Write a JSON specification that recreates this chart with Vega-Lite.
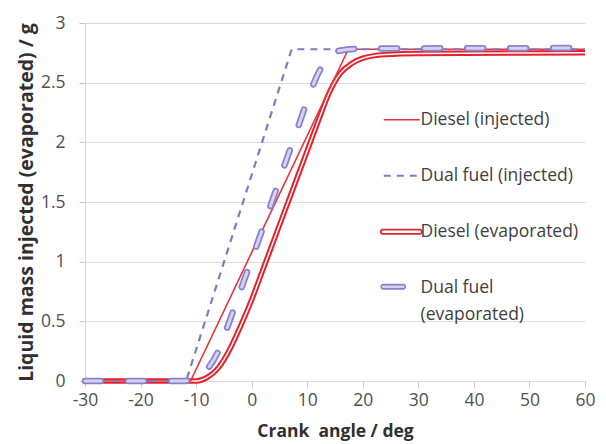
{
  "$schema": "https://vega.github.io/schema/vega-lite/v6.json",
  "autosize": "none",
  "width": 500,
  "height": 358,
  "padding": {"left": 85, "top": 23, "right": 21, "bottom": 63},
  "background": "white",
  "data": {
    "values": [
      {"series": "Diesel (injected)", "x": -30, "y": 0},
      {"series": "Diesel (injected)", "x": -11, "y": 0},
      {"series": "Diesel (injected)", "x": 17.4, "y": 2.78},
      {"series": "Diesel (injected)", "x": 60, "y": 2.78},
      {"series": "Dual fuel (injected)", "x": -30, "y": 0},
      {"series": "Dual fuel (injected)", "x": -11.8, "y": 0},
      {"series": "Dual fuel (injected)", "x": 7.2, "y": 2.78},
      {"series": "Dual fuel (injected)", "x": 60, "y": 2.78},
      {"series": "Diesel (evaporated)", "x": -30, "y": 0},
      {"series": "Diesel (evaporated)", "x": -10, "y": 0},
      {"series": "Diesel (evaporated)", "x": -8, "y": 0.03},
      {"series": "Diesel (evaporated)", "x": -6, "y": 0.11},
      {"series": "Diesel (evaporated)", "x": -4, "y": 0.26},
      {"series": "Diesel (evaporated)", "x": -2, "y": 0.46},
      {"series": "Diesel (evaporated)", "x": 0, "y": 0.68},
      {"series": "Diesel (evaporated)", "x": 2, "y": 0.93},
      {"series": "Diesel (evaporated)", "x": 4, "y": 1.18},
      {"series": "Diesel (evaporated)", "x": 6, "y": 1.43},
      {"series": "Diesel (evaporated)", "x": 8, "y": 1.68},
      {"series": "Diesel (evaporated)", "x": 10, "y": 1.93},
      {"series": "Diesel (evaporated)", "x": 12, "y": 2.18},
      {"series": "Diesel (evaporated)", "x": 14, "y": 2.42},
      {"series": "Diesel (evaporated)", "x": 16, "y": 2.58},
      {"series": "Diesel (evaporated)", "x": 18, "y": 2.66},
      {"series": "Diesel (evaporated)", "x": 20, "y": 2.705},
      {"series": "Diesel (evaporated)", "x": 24, "y": 2.735},
      {"series": "Diesel (evaporated)", "x": 30, "y": 2.745},
      {"series": "Diesel (evaporated)", "x": 60, "y": 2.75},
      {"series": "Dual fuel (evaporated)", "x": -30, "y": 0},
      {"series": "Dual fuel (evaporated)", "x": -12, "y": 0},
      {"series": "Dual fuel (evaporated)", "x": -10, "y": 0.03},
      {"series": "Dual fuel (evaporated)", "x": -8, "y": 0.1},
      {"series": "Dual fuel (evaporated)", "x": -6, "y": 0.25},
      {"series": "Dual fuel (evaporated)", "x": -4, "y": 0.5},
      {"series": "Dual fuel (evaporated)", "x": -2, "y": 0.76},
      {"series": "Dual fuel (evaporated)", "x": 0, "y": 1.02},
      {"series": "Dual fuel (evaporated)", "x": 2, "y": 1.28},
      {"series": "Dual fuel (evaporated)", "x": 4, "y": 1.55},
      {"series": "Dual fuel (evaporated)", "x": 6, "y": 1.82},
      {"series": "Dual fuel (evaporated)", "x": 8, "y": 2.08},
      {"series": "Dual fuel (evaporated)", "x": 10, "y": 2.35},
      {"series": "Dual fuel (evaporated)", "x": 12, "y": 2.58},
      {"series": "Dual fuel (evaporated)", "x": 14, "y": 2.72},
      {"series": "Dual fuel (evaporated)", "x": 16, "y": 2.77},
      {"series": "Dual fuel (evaporated)", "x": 20, "y": 2.785},
      {"series": "Dual fuel (evaporated)", "x": 60, "y": 2.79}
    ]
  },
  "encoding": {
    "x": {
      "field": "x", "type": "quantitative",
      "scale": {"domain": [-30, 60], "nice": false, "zero": false},
      "axis": {
        "title": "Crank\u00a0 angle / deg",
        "values": [-30, -20, -10, 0, 10, 20, 30, 40, 50, 60],
        "labelExpr": "toString(datum.value)",
        "labelFlush": false,
        "grid": false
      }
    },
    "y": {
      "field": "y", "type": "quantitative",
      "scale": {"domain": [0, 3], "nice": false},
      "axis": {
        "title": "Liquid mass injected (evaporated) / g",
        "values": [0, 0.5, 1, 1.5, 2, 2.5, 3],
        "labelExpr": "toString(datum.value)",
        "grid": true
      }
    },
    "order": {"field": "x", "type": "quantitative"},
    "color": {
      "field": "series", "type": "nominal",
      "scale": {
        "domain": ["Diesel (injected)", "Dual fuel (injected)", "Diesel (evaporated)", "Dual fuel (evaporated)"],
        "range": ["#E8333D", "#7E7AC6", "#E3222F", "#8782C9"]
      },
      "legend": {
        "encode": {
          "symbols": {
            "update": {
              "shape": {"signal": "datum.value == 'Diesel (evaporated)' ? 'M-1.05,-0.115 L1,-0.115 A0.115,0.115 0 0 1 1,0.115 L-1.05,0.115 A0.115,0.115 0 0 1 -1.05,-0.115 Z' : datum.value == 'Dual fuel (evaporated)' ? 'M-1.02,-0.12 L0.08,-0.12 A0.12,0.12 0 0 1 0.08,0.12 L-1.02,0.12 A0.12,0.12 0 0 1 -1.02,-0.12 Z' : 'stroke'"},
              "fill": {"signal": "datum.value == 'Diesel (evaporated)' ? '#FFFFFF' : datum.value == 'Dual fuel (evaporated)' ? '#D4D0EE' : 'transparent'"},
              "strokeWidth": {"signal": "datum.value == 'Diesel (evaporated)' ? 1.8 : datum.value == 'Dual fuel (evaporated)' ? 1.6 : datum.value == 'Dual fuel (injected)' ? 2.2 : 1.6"},
              "strokeDash": {"signal": "datum.value == 'Dual fuel (injected)' ? [7, 6] : [1, 0]"}
            }
          },
          "labels": {
            "update": {
              "text": {"signal": "datum.value == 'Dual fuel (evaporated)' ? ['Dual fuel', '(evaporated)'] : datum.label"},
              "lineHeight": {"value": 27},
              "baseline": {"signal": "datum.value == 'Dual fuel (evaporated)' ? 'top' : 'middle'"},
              "dy": {"signal": "datum.value == 'Dual fuel (evaporated)' ? -8 : 0"}
            }
          }
        }
      }
    }
  },
  "layer": [
    {
      "transform": [{"filter": "datum.series == 'Diesel (evaporated)'"}],
      "mark": {"type": "line", "interpolate": "monotone", "strokeWidth": 5.5}
    },
    {
      "transform": [{"filter": "datum.series == 'Diesel (evaporated)'"}],
      "mark": {"type": "line", "interpolate": "monotone", "strokeWidth": 1.5},
      "encoding": {"color": {"value": "#FFF6F2"}, "detail": {"field": "series", "type": "nominal"}}
    },
    {
      "transform": [{"filter": "datum.series == 'Diesel (injected)'"}],
      "mark": {"type": "line", "strokeWidth": 1.6}
    },
    {
      "transform": [{"filter": "datum.series == 'Dual fuel (injected)'"}],
      "mark": {"type": "line", "strokeWidth": 2.2, "strokeDash": [7, 6]}
    },
    {
      "transform": [{"filter": "datum.series == 'Dual fuel (evaporated)'"}],
      "mark": {"type": "line", "interpolate": "monotone", "strokeCap": "round", "strokeWidth": 6.5, "strokeDash": [16, 27]}
    },
    {
      "transform": [{"filter": "datum.series == 'Dual fuel (evaporated)'"}],
      "mark": {"type": "line", "interpolate": "monotone", "strokeCap": "round", "strokeWidth": 3, "strokeDash": [16, 27]},
      "encoding": {"color": {"value": "#D6D2F0"}, "detail": {"field": "series", "type": "nominal"}}
    }
  ],
  "config": {
    "view": {"stroke": null},
    "font": "Open Sans",
    "axis": {
      "labelFont": "Open Sans",
      "labelFontSize": 17.5,
      "labelColor": "#505050",
      "titleFont": "Open Sans",
      "titleFontWeight": "bold",
      "titleColor": "#303030",
      "domainColor": "#D9D9D9",
      "tickColor": "#C8C8C8",
      "tickSize": 6,
      "gridColor": "#DDDDDD",
      "gridWidth": 1
    },
    "axisX": {"labelPadding": 4, "titlePadding": 14, "titleFontSize": 17.5},
    "axisY": {"labelPadding": 14, "titlePadding": 4, "titleFontSize": 19.5},
    "legend": {
      "orient": "none",
      "legendX": 308,
      "legendY": 88,
      "title": null,
      "symbolType": "stroke",
      "symbolSize": 1296,
      "labelFont": "Open Sans",
      "labelFontSize": 17.5,
      "labelColor": "#404040",
      "labelOffset": 10,
      "rowPadding": 37,
      "labelLimit": 300
    }
  }
}
